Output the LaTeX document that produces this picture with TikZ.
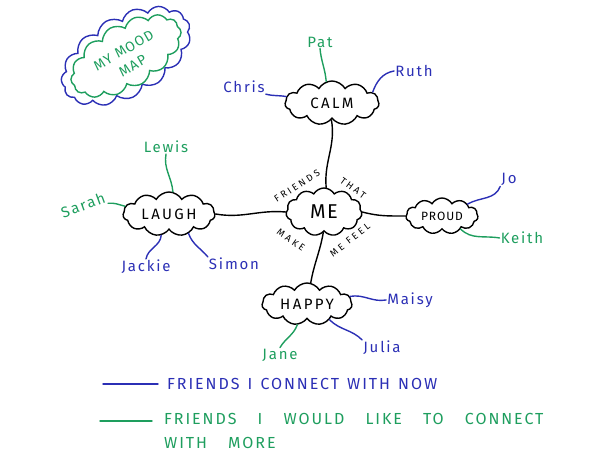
\documentclass[tikz,border=0pt]{standalone}
\usepackage{fontspec}
\setmainfont{Fira Sans}
\newfontfamily\hand[LetterSpace=8]{Fira Sans}
\newfontfamily\handwide[LetterSpace=12]{Fira Sans}
\newfontfamily\handcloud[LetterSpace=16]{Fira Sans}
\newfontfamily\handspread[LetterSpace=28]{Fira Sans}
\newcommand\lgap{\hspace{15pt}}
\newcommand\sgap{\hspace{2pt}}
\usetikzlibrary{shapes.symbols}
\definecolor{pblue}{HTML}{2B2FB5}
\definecolor{pgreen}{HTML}{1E9E5E}
\begin{document}
\begin{tikzpicture}[x=1pt,y=1pt,
  mood/.style={cloud, cloud puffs=11, cloud puff arc=120, cloud ignores aspect,
    draw=black, line width=1.4pt, inner sep=0pt, fill=white,
    font=\handcloud\fontsize{15}{15}\selectfont},
  bname/.style={text=pblue, font=\handwide\fontsize{15}{17}\selectfont, inner sep=1pt},
  gname/.style={text=pgreen, font=\handwide\fontsize{15}{17}\selectfont, inner sep=1pt},
  blink/.style={draw=pblue, line width=1.4pt, line cap=round},
  glink/.style={draw=pgreen, line width=1.4pt, line cap=round},
  klink/.style={draw=black, line width=1.4pt, line cap=round},
  legfont/.style={font=\handwide\fontsize{16}{24}\selectfont, inner sep=0pt, align=left},
  around/.style={font=\handspread\fontsize{9.5}{9.5}\selectfont, inner sep=0pt}]
\useasboundingbox (0,0) rectangle (590,470);

% title cloud
\node[cloud, cloud puffs=15, cloud puff arc=120, cloud ignores aspect, draw=pblue,
  line width=1.4pt, minimum width=142, minimum height=80, rotate=30] (mapouter) at (126,414) {};
\node[cloud, cloud puffs=14, cloud puff arc=120, cloud ignores aspect, draw=pgreen,
  line width=1.4pt, minimum width=122, minimum height=64, rotate=30] (mapinner) at (126,414) {};
\node[text=pgreen, rotate=30, align=center, font=\hand\fontsize{14}{18}\selectfont] (maptext) at (128,412) {MY MOOD\\MAP};

% mood clouds
\node[mood, minimum width=94, minimum height=44] (calm) at (332,367) {CALM};
\node[mood, minimum width=76, minimum height=48, font=\hand\fontsize{20}{20}\selectfont] (me) at (324,258) {ME};
\node[mood, minimum width=92, minimum height=44] (laugh) at (169,256) {LAUGH};
\node[mood, minimum width=72, minimum height=36, font=\hand\fontsize{12}{12}\selectfont] (proud) at (442,254) {PROUD};
\node[mood, minimum width=90, minimum height=42] (happy) at (307,166) {HAPPY};

% names
\node[gname] (pat) at (320,428) {Pat};
\node[bname] (chris) at (244,383) {Chris};
\node[bname] (ruth) at (414,399) {Ruth};
\node[gname] (lewis) at (166,323) {Lewis};
\node[gname, rotate=20] (sarah) at (83,265) {Sarah};
\node[bname] (jackie) at (146,203) {Jackie};
\node[bname] (simon) at (234,206) {Simon};
\node[bname] (jo) at (509,291) {Jo};
\node[gname] (keith) at (522,232) {Keith};
\node[bname] (maisy) at (410,170) {Maisy};
\node[bname] (julia) at (382,122) {Julia};
\node[gname] (jane) at (280,115) {Jane};

% main connectors
\draw[klink] (calm.-92) to[out=-80,in=95] (me.85);
\draw[klink] (laugh.east) to[out=-10,in=175] (me.west);
\draw[klink] (me.east) to[out=-15,in=180] (proud.west);
\draw[klink] (me.-92) to[out=-100,in=80] (happy.80);

% name connectors
\draw[glink] (pat.south) to[out=-85,in=95] (calm.105);
\draw[blink] (chris.south east) to[out=-15,in=170] (calm.172);
\draw[blink] (ruth.west) to[out=190,in=70] (calm.15);
\draw[glink] (lewis.south) to[out=-100,in=95] (laugh.80);
\draw[glink] (sarah.south east) to[out=5,in=165] (laugh.170);
\draw[blink] (jackie.north) to[out=80,in=-95] (laugh.-110);
\draw[blink] (simon.north west) to[out=130,in=-70] (laugh.-45);
\draw[blink] (jo.south west) to[out=-110,in=30] (proud.25);
\draw[glink] (keith.west) to[out=170,in=-45] (proud.-35);
\draw[blink] (maisy.west) to[out=190,in=10] (happy.10);
\draw[blink] (julia.north west) to[out=135,in=-45] (happy.-35);
\draw[glink] (jane.north) to[out=60,in=-110] (happy.-115);

% words around ME
\node[around, rotate=33] (wfriends) at (297,284) {FRIENDS};
\node[around, rotate=-36] (wthat) at (353,282) {THAT};
\node[around, rotate=-35] (wmake) at (291,230) {MAKE};
\node[around, rotate=38] (wfeel) at (350,230) {ME FEEL};

% legend
\coordinate (l1a) at (103,86);
\coordinate (l1b) at (158,86);
\coordinate (l2a) at (100,49);
\coordinate (l2b) at (152,49);
\draw[blink] (l1a) -- (l1b);
\draw[glink] (l2a) -- (l2b);
\node[legfont, text=pblue, anchor=west] (leg1) at (167,86) {FRIENDS\sgap{} I\sgap{} CONNECT\sgap{} WITH\sgap{} NOW};
\node[legfont, text=pgreen, anchor=north west] (leg2) at (164,57) {FRIENDS\lgap{} I\lgap{} WOULD\lgap{} LIKE\lgap{} TO\lgap{} CONNECT\\WITH\lgap{} MORE};
\end{tikzpicture}
\end{document}
